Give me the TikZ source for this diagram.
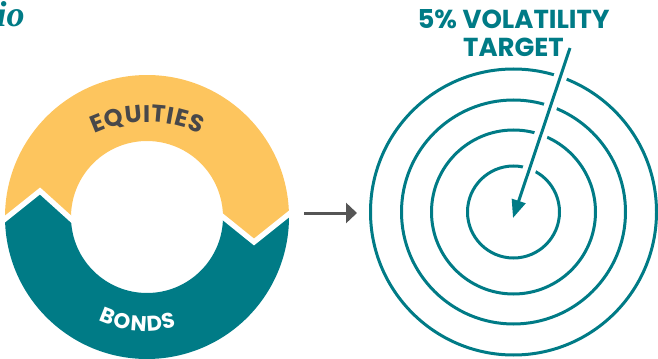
\documentclass[tikz,border=0pt]{standalone}
\usepackage{fontspec}
\usepackage{xcolor}
\usepackage{tikz}
\usetikzlibrary{arrows.meta, decorations.text}
\newfontfamily\poppins{Poppins}
\newfontfamily\serifhead{Liberation Serif}
\newcommand{\eqfont}{\poppins\bfseries\fontsize{18}{18}\selectfont}
\newcommand{\bdfont}{\poppins\bfseries\fontsize{16}{16}\selectfont}
\definecolor{pfTeal}{RGB}{0, 123, 134}
\definecolor{pfGold}{RGB}{253, 197, 94}
\definecolor{pfGray}{RGB}{72, 72, 74}
\definecolor{pfArrow}{RGB}{85, 85, 85}
\tikzset{
    ring/.style={
        draw=pfTeal,
        line width=2.25pt
    },
    notch/.style={
        draw=white,
        line width=10pt
    },
    seam/.style={
        draw=white,
        line width=4pt,
        line join=miter
    },
    pointer/.style={
        -{Triangle[length=13.5pt, width=10.5pt]},
        draw=pfTeal,
        line width=2.25pt
    },
    flow/.style={
        -{Triangle[length=8.25pt, width=15pt]},
        draw=pfArrow,
        line width=2.25pt
    },
    title/.style={
        font=\poppins\bfseries\fontsize{19.5}{21}\selectfont,
        text=pfTeal,
        align=center,
        inner sep=0pt
    },
    head/.style={
        font=\serifhead\bfseries\itshape\fontsize{27}{27}\selectfont,
        text=pfTeal,
        inner sep=0pt
    }
}

\begin{document}
\begin{tikzpicture}[x=0.75pt, y=0.75pt]
    \useasboundingbox (0,0) rectangle (658,358);

    % Heading (cut off)
    \node[head, anchor=base east] (lead) at (25,331) {io};

    % Donut
    \coordinate (mix) at (147,141);
    \begin{scope}[shift={(mix)}]
        \fill[pfGold] (1.2:142) arc[start angle=1.2, end angle=180.8, radius=142]
            -- (-107,26) -- (181.5:76) arc[start angle=181.5, end angle=0, radius=76]
            -- (107,-25) -- cycle;
        \fill[pfTeal] (180.8:142) arc[start angle=180.8, end angle=361.2, radius=142]
            -- (107,-25) -- (0:76) arc[start angle=360, end angle=181.5, radius=76]
            -- (-107,26) -- cycle;
        \draw[seam, shorten <=-4pt, shorten >=-4pt] (180.8:142) -- (-107,26) -- (181.5:76);
        \draw[seam, shorten <=-4pt, shorten >=-4pt] (0:76) -- (107,-25) -- (1.2:142);
        % Labels
        \path[decorate, decoration={text along path, text={|\eqfont|EQUITIES},
            text align=fit to path, text color=pfGray}]
            (0,-30) ++(115:125) arc[start angle=115, end angle=65, radius=125];
        \path[decorate, decoration={text along path, text={|\bdfont|BONDS},
            text align=fit to path, text color=white}]
            (245:114) arc[start angle=245, end angle=285, radius=114];
    \end{scope}

    % Arrow between
    \coordinate (from) at (304,145);
    \coordinate (to) at (357,145);
    \draw[flow] (from) -- (to);

    % Target
    \coordinate (bull) at (513.5,146);
    \foreach \r in {46, 82, 112, 143}
        \draw[ring] (bull) circle[radius=\r];

    \coordinate (aim) at (570,310);
    \coordinate (tip) at (513,140);
    \draw[notch] (aim) -- (tip);
    \draw[pointer] (aim) -- (tip);

    \node[title] (goal) at (513.5,325) {5\% VOLATILITY\\TARGET};

\end{tikzpicture}
\end{document}
